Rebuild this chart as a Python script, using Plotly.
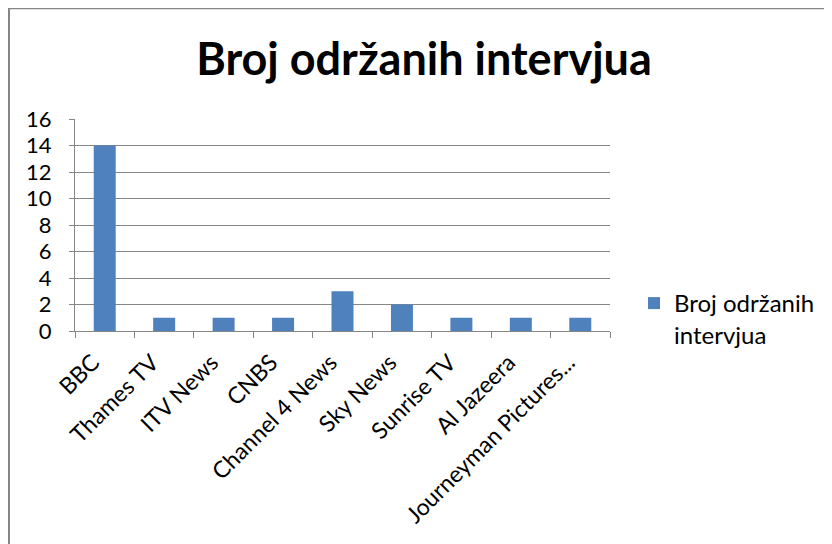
import plotly.graph_objects as go

categories = ["BBC", "Thames TV", "ITV News", "CNBS", "Channel 4 News", "Sky News",
              "Sunrise TV", "Al Jazeera", "Journeyman Pictures..."]
values = [14, 1, 1, 1, 3, 2, 1, 1, 1]
series_name = "Broj održanih<br>intervjua"
title_text = "Broj održanih intervjua"
y_ticks = [0, 2, 4, 6, 8, 10, 12, 14, 16]

# page body has an 8px margin; figure sized to fit the window
W, H = 824, 536
ml, mr, mt, mb = 67, 222, 111, 213
pw, ph = W - ml - mr, H - mt - mb

def px_x(p):
    return (p - ml) / pw

def px_y(p):
    return (H - mb - p) / ph

fig = go.Figure(go.Bar(
    x=categories, y=values, name=series_name,
    marker=dict(color="#4F81BD", line=dict(width=0)),
    showlegend=True,
))

font = "Lato, 'Open Sans', sans-serif"
grey = "#868686"
fig.update_layout(
    width=W, height=H,
    margin=dict(l=ml, r=mr, t=mt, b=mb),
    paper_bgcolor="white", plot_bgcolor="white",
    bargap=0.63,
    font=dict(family=font, color="black", size=22),
    title=dict(text="<b>" + title_text + "</b>", x=px_x(416), xref="paper",
               xanchor="center", y=1 - 51 / H, yanchor="middle",
               font=dict(size=45, family=font, color="black")),
    legend=dict(x=px_x(626), xanchor="left", y=px_y(311), yanchor="middle",
                font=dict(size=24, family=font), itemwidth=30, valign="top",
                bgcolor="rgba(0,0,0,0)"),
    xaxis=dict(type="category", tickson="boundaries", ticks="outside", ticklen=6,
               tickcolor=grey, showline=True, linecolor=grey, linewidth=1,
               tickangle=-45, showgrid=False, tickfont=dict(size=23), automargin=True,
               ticklabelposition="outside", ticklabelstandoff=8, ticklabelshift=-12,
               range=[-0.5, len(categories) - 0.5]),
    yaxis=dict(range=[0, 16], tickvals=y_ticks, ticks="outside", ticklen=5,
               tickcolor=grey, showline=True, linecolor=grey, linewidth=1,
               showgrid=True, gridcolor=grey, gridwidth=1, automargin=True,
               ticklabelposition="outside", ticklabelstandoff=13,
               tickfont=dict(size=22), zeroline=False),
    shapes=[
        dict(type="line", xref="paper", yref="paper",
             x0=px_x(0), x1=px_x(W), y0=px_y(0.5), y1=px_y(0.5),
             line=dict(color=grey, width=1.5), layer="below"),
        dict(type="line", xref="paper", yref="paper",
             x0=px_x(1), x1=px_x(1), y0=px_y(0), y1=px_y(H),
             line=dict(color=grey, width=2), layer="below"),
    ],
)

fig.write_html("out.html")
